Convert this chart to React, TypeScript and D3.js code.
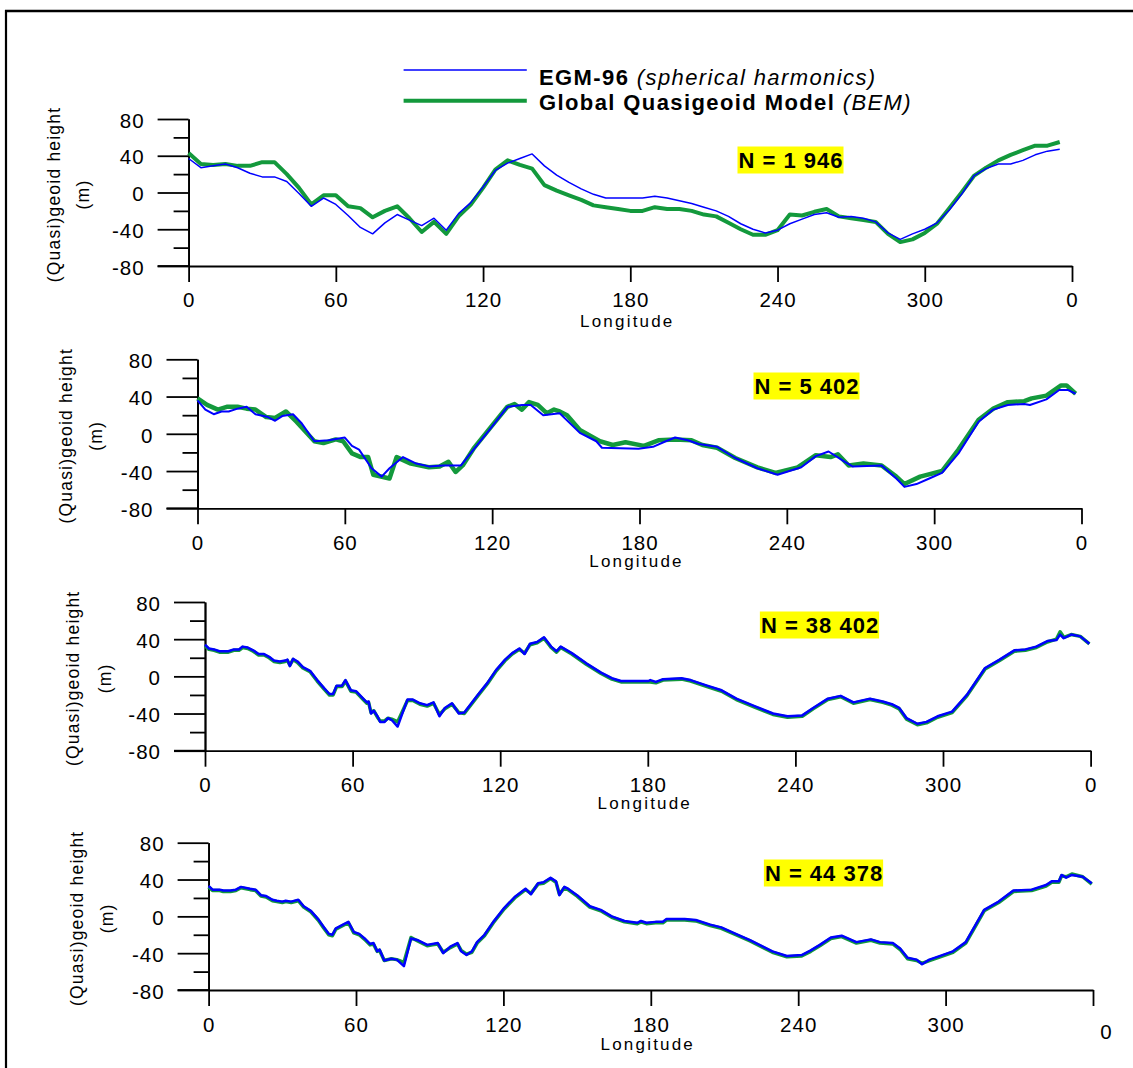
import React, { useEffect, useRef } from "react";
import * as d3 from "d3";

// panel 1 (N = 1 946), 5 degree steps
const lon1 = [0, 5, 10, 15, 20, 25, 30, 35, 40, 45, 50, 55, 60, 65, 70, 75, 80, 85, 90, 95, 100, 105, 110, 115, 120, 125, 130, 135, 140, 145, 150, 155, 160, 165, 170, 175, 180, 185, 190, 195, 200, 205, 210, 215, 220, 225, 230, 235, 240, 245, 250, 255, 260, 265, 270, 275, 280, 285, 290, 295, 300, 305, 310, 315, 320, 325, 330, 335, 340, 345, 350, 355];
const egm1 = [37, 27, 29, 31, 27, 21, 17, 17, 12, -1, -15, -6, -13, -25, -38, -45, -33, -24, -30, -36, -28, -41, -23, -11, 6, 24, 32, 37, 42, 29, 19, 11, 4, -2, -6, -6, -6, -6, -4, -6, -9, -12, -16, -20, -26, -34, -40, -44, -41, -34, -29, -24, -22, -27, -26, -28, -32, -44, -51, -45, -40, -33, -19, -2, 18, 26, 31, 31, 35, 41, 45, 47];
const bem1 = [43, 31, 30, 31, 29, 29, 33, 33, 20, 5, -13, -3, -3, -15, -17, -27, -20, -15, -28, -43, -32, -45, -26, -13, 5, 25, 35, 30, 26, 8, 2, -3, -8, -14, -16, -18, -20, -20, -16, -18, -18, -20, -24, -26, -33, -40, -46, -46, -41, -24, -25, -21, -18, -26, -28, -30, -32, -45, -54, -51, -44, -34, -17, 0, 18, 27, 35, 41, 46, 51, 51, 55];

// panel 2 (N = 5 402)
const egm2Lon = [0, 3.2, 6.6, 9.8, 12.7, 16.3, 20, 23.6, 28.7, 31.6, 34.5, 38.9, 42.5, 47.6, 53.4, 60, 62.9, 65.8, 70.9, 75, 78.2, 83.7, 89.1, 94.2, 100, 107.3, 112.4, 119.7, 126.2, 132.1, 135.7, 140.8, 147.5, 155.7, 162.4, 164.7, 179.6, 185.5, 190.7, 194.5, 199.7, 204.1, 211.6, 219, 228, 236.2, 245.9, 251.8, 257, 263, 266.7, 278.6, 284.6, 287.9, 292.8, 298, 303.2, 309.9, 318.1, 324.1, 330, 336.7, 339, 345.7, 350.9, 354.6, 357.6];
const egm2 = [36, 26, 21, 24, 24, 27, 29, 21, 18, 14, 19, 21, 11, -8, -7, -4, -13, -17, -37, -46, -37, -25, -32, -35, -34, -34, -17, 7, 29, 31, 31, 20, 22, 1, -8, -15, -16, -14, -8, -4, -7, -11, -14, -26, -37, -44, -36, -24, -19, -29, -35, -34, -48, -57, -54, -48, -42, -21, 13, 26, 31, 32, 31, 37, 47, 47, 43];
const bem2Lon = [0, 3.9, 8.3, 11.9, 16.3, 20, 23.6, 28, 31.6, 36, 40.3, 47.6, 51.3, 56.3, 59.3, 62.9, 66.5, 69.5, 71.6, 78.2, 81.1, 86.9, 94.2, 98.6, 102.2, 105.1, 108, 112.4, 119.7, 126.2, 129.1, 132.1, 135, 138.6, 142.3, 145.2, 147.5, 150.5, 155.7, 163.9, 169.1, 174.3, 181.8, 187.7, 194.5, 201.2, 205.6, 211.6, 219, 228, 235.4, 244.4, 251.8, 257.8, 260.8, 265.2, 271.2, 278.6, 284.6, 287.9, 294.3, 303.2, 309.9, 318.1, 324.1, 330, 336.7, 339.7, 345.7, 351.7, 353.9, 357.6];
const bem2 = [38, 31, 26, 29, 29, 27, 26, 18, 17, 24, 13, -8, -10, -6, -8, -21, -25, -25, -44, -48, -25, -32, -36, -35, -30, -41, -34, -16, 8, 29, 32, 26, 34, 31, 22, 26, 24, 20, 4, -8, -12, -9, -13, -7, -6, -7, -12, -15, -26, -36, -42, -36, -23, -25, -22, -34, -32, -34, -46, -54, -46, -40, -17, 15, 27, 34, 35, 38, 41, 52, 52, 43];

// panel 3 (N = 38 402)
const lon3 = [0, 1.6, 3.7, 5.9, 9.5, 11.7, 13.8, 15.3, 17.4, 19.6, 21.8, 24, 26.1, 28, 30.4, 32.6, 33.5, 34.5, 35.8, 37.6, 39.8, 42.7, 45.6, 48.5, 50.6, 52.1, 53.5, 55.7, 57.1, 59.3, 61.4, 64.3, 65.8, 66.5, 67.5, 68.6, 70.1, 71.2, 73, 74.4, 75.9, 78.3, 80.2, 82.3, 84.5, 87.4, 90.3, 92.9, 95.3, 97.5, 100.4, 103.2, 105.4, 108.3, 111.2, 114.8, 118.4, 122, 124.9, 127.8, 129.9, 132.1, 135, 137.8, 140.7, 142.9, 144.6, 149.1, 155, 161, 165.4, 169.1, 180.3, 181, 183.3, 186.2, 193.7, 197.4, 204.1, 210, 216, 223.4, 230.9, 236.8, 242.8, 247.2, 253.2, 258.4, 263.6, 270.3, 275.5, 279.2, 282.2, 285.2, 289.6, 293.3, 297.8, 303.7, 309.7, 317.1, 323, 329, 333.5, 337.9, 342.4, 346.1, 347.6, 349.1, 352.1, 355.8, 359.5];
const egm3 = [34, 30, 29, 27, 27, 29, 29, 32, 31, 28, 24, 24, 21, 17, 16, 17, 18, 11, 19, 16, 10, 6, -4, -13, -19, -19, -10, -10, -4, -15, -16, -24, -28, -27, -40, -37, -43, -49, -49, -45, -47, -54, -40, -25, -25, -29, -31, -28, -43, -34, -29, -40, -39, -29, -19, -7, 7, 18, 25, 30, 24, 35, 37, 42, 32, 27, 32, 25, 14, 4, -2, -5, -5, -4, -6, -3, -2, -4, -10, -15, -24, -32, -40, -43, -42, -34, -24, -21, -28, -24, -27, -30, -34, -45, -51, -49, -43, -38, -20, 9, 18, 28, 29, 32, 38, 39, 45, 41, 45, 43, 35];
const bem3 = [33, 29, 28, 26, 26, 28, 28, 31, 30, 27, 23, 23, 20, 16, 15, 16, 17, 12, 18, 15, 9, 5, -5, -14, -20, -20, -11, -11, -5, -16, -17, -25, -29, -28, -39, -37, -44, -48, -48, -45, -46, -49, -38, -26, -26, -30, -32, -29, -41, -35, -30, -39, -40, -30, -20, -8, 6, 17, 24, 29, 25, 34, 36, 41, 31, 26, 31, 24, 13, 3, -3, -6, -6, -6, -7, -4, -3, -5, -11, -16, -25, -33, -41, -44, -43, -35, -25, -22, -29, -25, -28, -31, -35, -46, -52, -50, -44, -39, -21, 8, 17, 27, 28, 31, 37, 40, 48, 42, 45, 43, 35];

// panel 4 (N = 44 378)
const lon4 = [0, 1.6, 4.5, 6, 8.9, 11.1, 13.2, 16.9, 19.1, 21.3, 23.4, 26, 27.8, 30, 31.4, 33.6, 36.5, 38.7, 41.6, 44.6, 46.7, 48.9, 50.4, 51.8, 54.7, 56.9, 59.1, 61.3, 63.5, 65.7, 67.1, 68.6, 69.6, 71.5, 74.4, 76.6, 79.5, 82.4, 85.3, 89, 91.1, 93.3, 95.5, 98.4, 101.3, 102.8, 105, 107.2, 109.3, 112.3, 115.9, 120.3, 124.6, 129, 131.2, 134.1, 136.3, 139.2, 141.4, 142.8, 144.8, 146.3, 150, 155.2, 159.6, 164.1, 169.3, 174.5, 176, 178.2, 181.9, 184.9, 186.4, 193.8, 198.3, 204.2, 208.7, 214.6, 220.6, 229.5, 235.4, 241.4, 245.1, 248.8, 253.3, 257.7, 263.7, 269.6, 273.3, 278.5, 281.5, 284.5, 288.2, 290.4, 293.4, 297.8, 303, 308.2, 315.7, 321.6, 327.6, 335, 340.9, 343.2, 346.1, 347.2, 349.1, 351.4, 355.8, 359.5];
const egm4 = [33, 29, 29, 28, 28, 29, 32, 30, 29, 23, 22, 18, 17, 16, 17, 16, 18, 11, 6, -3, -11, -19, -20, -13, -9, -6, -17, -19, -24, -30, -29, -38, -36, -48, -46, -47, -54, -24, -26, -31, -30, -29, -40, -33, -29, -38, -42, -38, -28, -20, -6, 9, 21, 30, 24, 36, 37, 42, 38, 23, 32, 30, 23, 11, 7, 0, -5, -7, -5, -7, -6, -6, -3, -3, -4, -9, -12, -19, -26, -38, -43, -42, -37, -31, -23, -21, -28, -25, -28, -29, -35, -45, -47, -52, -47, -43, -38, -28, 7, 16, 28, 29, 34, 38, 38, 45, 42, 45, 43, 36];
const bem4 = [32, 28, 28, 27, 27, 28, 31, 29, 28, 22, 21, 17, 16, 15, 16, 15, 17, 10, 5, -4, -12, -20, -21, -14, -10, -7, -18, -20, -25, -31, -30, -38, -37, -48, -46, -47, -50, -23, -27, -32, -31, -30, -39, -34, -30, -37, -41, -39, -29, -21, -7, 8, 20, 29, 25, 35, 36, 41, 37, 24, 31, 29, 22, 10, 6, -1, -6, -8, -6, -8, -7, -7, -4, -4, -5, -10, -13, -20, -27, -39, -44, -43, -38, -32, -24, -22, -29, -26, -29, -30, -36, -46, -48, -51, -48, -44, -39, -29, 6, 15, 27, 28, 33, 37, 37, 44, 43, 46, 43, 35];

const xTicks = [0, 60, 120, 180, 240, 300, 360];
const xTickLabels = ["0", "60", "120", "180", "240", "300", "0"];
const yMajor = [80, 40, 0, -40, -80];
const yMajorLabels = ["80", "40", "0", "-40", "-80"];
const yMinor = [60, 20, -20, -60];
const nLabels = ["N = 1 946", "N = 5 402", "N = 38 402", "N = 44 378"];
const legendBold = ["EGM-96", "Global Quasigeoid Model"];
const legendItalic = ["(spherical harmonics)", "(BEM)"];

const BLUE = "#0000ff";
const GREEN = "#13993c";
const FONT = "'Liberation Sans', Arial, sans-serif";

const panels = [
  { x0: 188.6, x1: 1072, top: 119, bottom: 266, egm: [lon1, egm1], bem: [lon1, bem1], box: [791, 160], bw: 1.5, gw: 4, title: [-135, -105.6], tickY: 41, longY: 61 },
  { x0: 197.5, x1: 1081.5, top: 359.3, bottom: 508.3, egm: [egm2Lon, egm2], bem: [bem2Lon, bem2], box: [807, 386], bw: 2, gw: 4.5, title: [-131.5, -101.5], tickY: 41.7, longY: 58.7 },
  { x0: 205, x1: 1090.6, top: 602, bottom: 750.7, egm: [lon3, egm3], bem: [lon3, bem3], box: [820, 625], bw: 2.5, gw: 3.5, title: [-132, -100.4], tickY: 41, longY: 58.3 },
  { x0: 208.6, x1: 1093, top: 842.7, bottom: 990, egm: [lon4, egm4], bem: [lon4, bem4], box: [824, 873], bw: 2.5, gw: 3.5, title: [-131.8, -101.6], tickY: 41.7, longY: 60 },
];

const App = () => {
  const ref = useRef<SVGSVGElement>(null);

  useEffect(() => {
    const svg = d3.select(ref.current);
    svg.selectAll("*").remove();

    // frame
    svg.append("line").attr("x1", 6).attr("x2", 6).attr("y1", 10).attr("y2", 1068).attr("stroke", "#000").attr("stroke-width", 2.2);
    svg.append("line").attr("x1", 5).attr("x2", 1133).attr("y1", 11).attr("y2", 11).attr("stroke", "#000").attr("stroke-width", 2.5);

    panels.forEach((p, pi) => {
      const x = d3.scaleLinear().domain([0, 360]).range([p.x0, p.x1]);
      const y = d3.scaleLinear().domain([-80, 80]).range([p.bottom, p.top]);
      const g = svg.append("g");

      // x axis
      const xa = g.append("g").attr("transform", `translate(0,${p.bottom})`)
        .call(d3.axisBottom(x).tickValues(xTicks).tickSize(16).tickSizeOuter(0).tickPadding(11).tickFormat((d, i) => xTickLabels[i]));
      g.append("line").attr("x1", p.x0 - 31).attr("x2", p.x0).attr("y1", p.bottom).attr("y2", p.bottom).attr("stroke", "#000").attr("stroke-width", 1.8);

      // y axis
      const ya = g.append("g").attr("transform", `translate(${p.x0},0)`)
        .call(d3.axisLeft(y).tickValues(yMajor).tickSize(31).tickSizeOuter(0).tickPadding(13).tickFormat((d, i) => yMajorLabels[i]));
      g.append("g").attr("transform", `translate(${p.x0},0)`)
        .call(d3.axisLeft(y).tickValues(yMinor).tickSize(15).tickSizeOuter(0).tickFormat(() => ""));

      g.selectAll(".domain, .tick line").attr("stroke", "#000").attr("stroke-width", 1.8);
      g.selectAll(".tick text").attr("fill", "#000").style("font-family", FONT).style("font-size", "20.5px").style("letter-spacing", "1px");
      xa.selectAll(".tick text").attr("dy", null).attr("y", p.tickY);
      if (pi === 3) {
        xa.selectAll(".tick text").filter((d) => d === 360).attr("dx", 13).attr("y", p.tickY + 7);
      }
      ya.selectAll(".tick text").attr("dy", "0.4em");

      g.append("text").attr("x", x(180) - 3).attr("y", p.bottom + p.longY).attr("text-anchor", "middle")
        .style("font-family", FONT).style("font-size", "17px").style("letter-spacing", "2.2px").text("Longitude");

      // y title
      const cy = (p.top + p.bottom) / 2 + 2;
      const t = g.append("text").attr("transform", `translate(${p.x0 + p.title[0]},${cy}) rotate(-90)`)
        .attr("text-anchor", "middle").style("font-family", FONT).style("font-size", "17.5px").style("letter-spacing", "1.2px");
      t.append("tspan").attr("x", 0).attr("dy", "0.35em").text("(Quasi)geoid height");
      t.append("tspan").attr("x", 0).attr("dy", p.title[1] - p.title[0]).text("(m)");

      // series
      const line = d3.line<[number, number]>().x((d) => x(d[0])).y((d) => y(d[1]));
      g.append("path").datum(d3.zip(p.bem[0], p.bem[1]) as [number, number][]).attr("d", line)
        .attr("fill", "none").attr("stroke", GREEN).attr("stroke-width", p.gw).attr("stroke-linejoin", "round");
      g.append("path").datum(d3.zip(p.egm[0], p.egm[1]) as [number, number][]).attr("d", line)
        .attr("fill", "none").attr("stroke", BLUE).attr("stroke-width", p.bw).attr("stroke-linejoin", "round");

      // N label
      const lab = g.append("g");
      const rect = lab.append("rect").attr("fill", "#ffff00");
      const txt = lab.append("text").attr("x", p.box[0]).attr("y", p.box[1]).attr("dy", "0.36em").attr("text-anchor", "middle")
        .style("font-family", FONT).style("font-size", "22px").style("font-weight", "bold").style("letter-spacing", "1px").text(nLabels[pi]);
      const bb = (txt.node() as SVGTextElement).getBBox();
      rect.attr("x", bb.x - 1).attr("width", bb.width + 1).attr("y", p.box[1] - 13.5).attr("height", 27);
    });

    // legend
    const ly = [70, 100.7];
    const lb = [85, 110];
    [0, 1].forEach((i) => {
      svg.append("line").attr("x1", 403.6).attr("x2", 526.8).attr("y1", ly[i]).attr("y2", ly[i])
        .attr("stroke", i === 0 ? BLUE : GREEN).attr("stroke-width", i === 0 ? 1.5 : 4);
      const t = svg.append("text").attr("x", 539).attr("y", lb[i]).style("font-family", FONT).style("font-size", "22px").style("letter-spacing", "1.4px");
      t.append("tspan").style("font-weight", "bold").text(legendBold[i] + " ");
      t.append("tspan").style("font-style", "italic").text(legendItalic[i]);
    });
  }, []);

  return <svg ref={ref} width={1133} height={1068} style={{ position: "absolute", left: 0, top: 0, background: "#fff" }} />;
};

export default App;
